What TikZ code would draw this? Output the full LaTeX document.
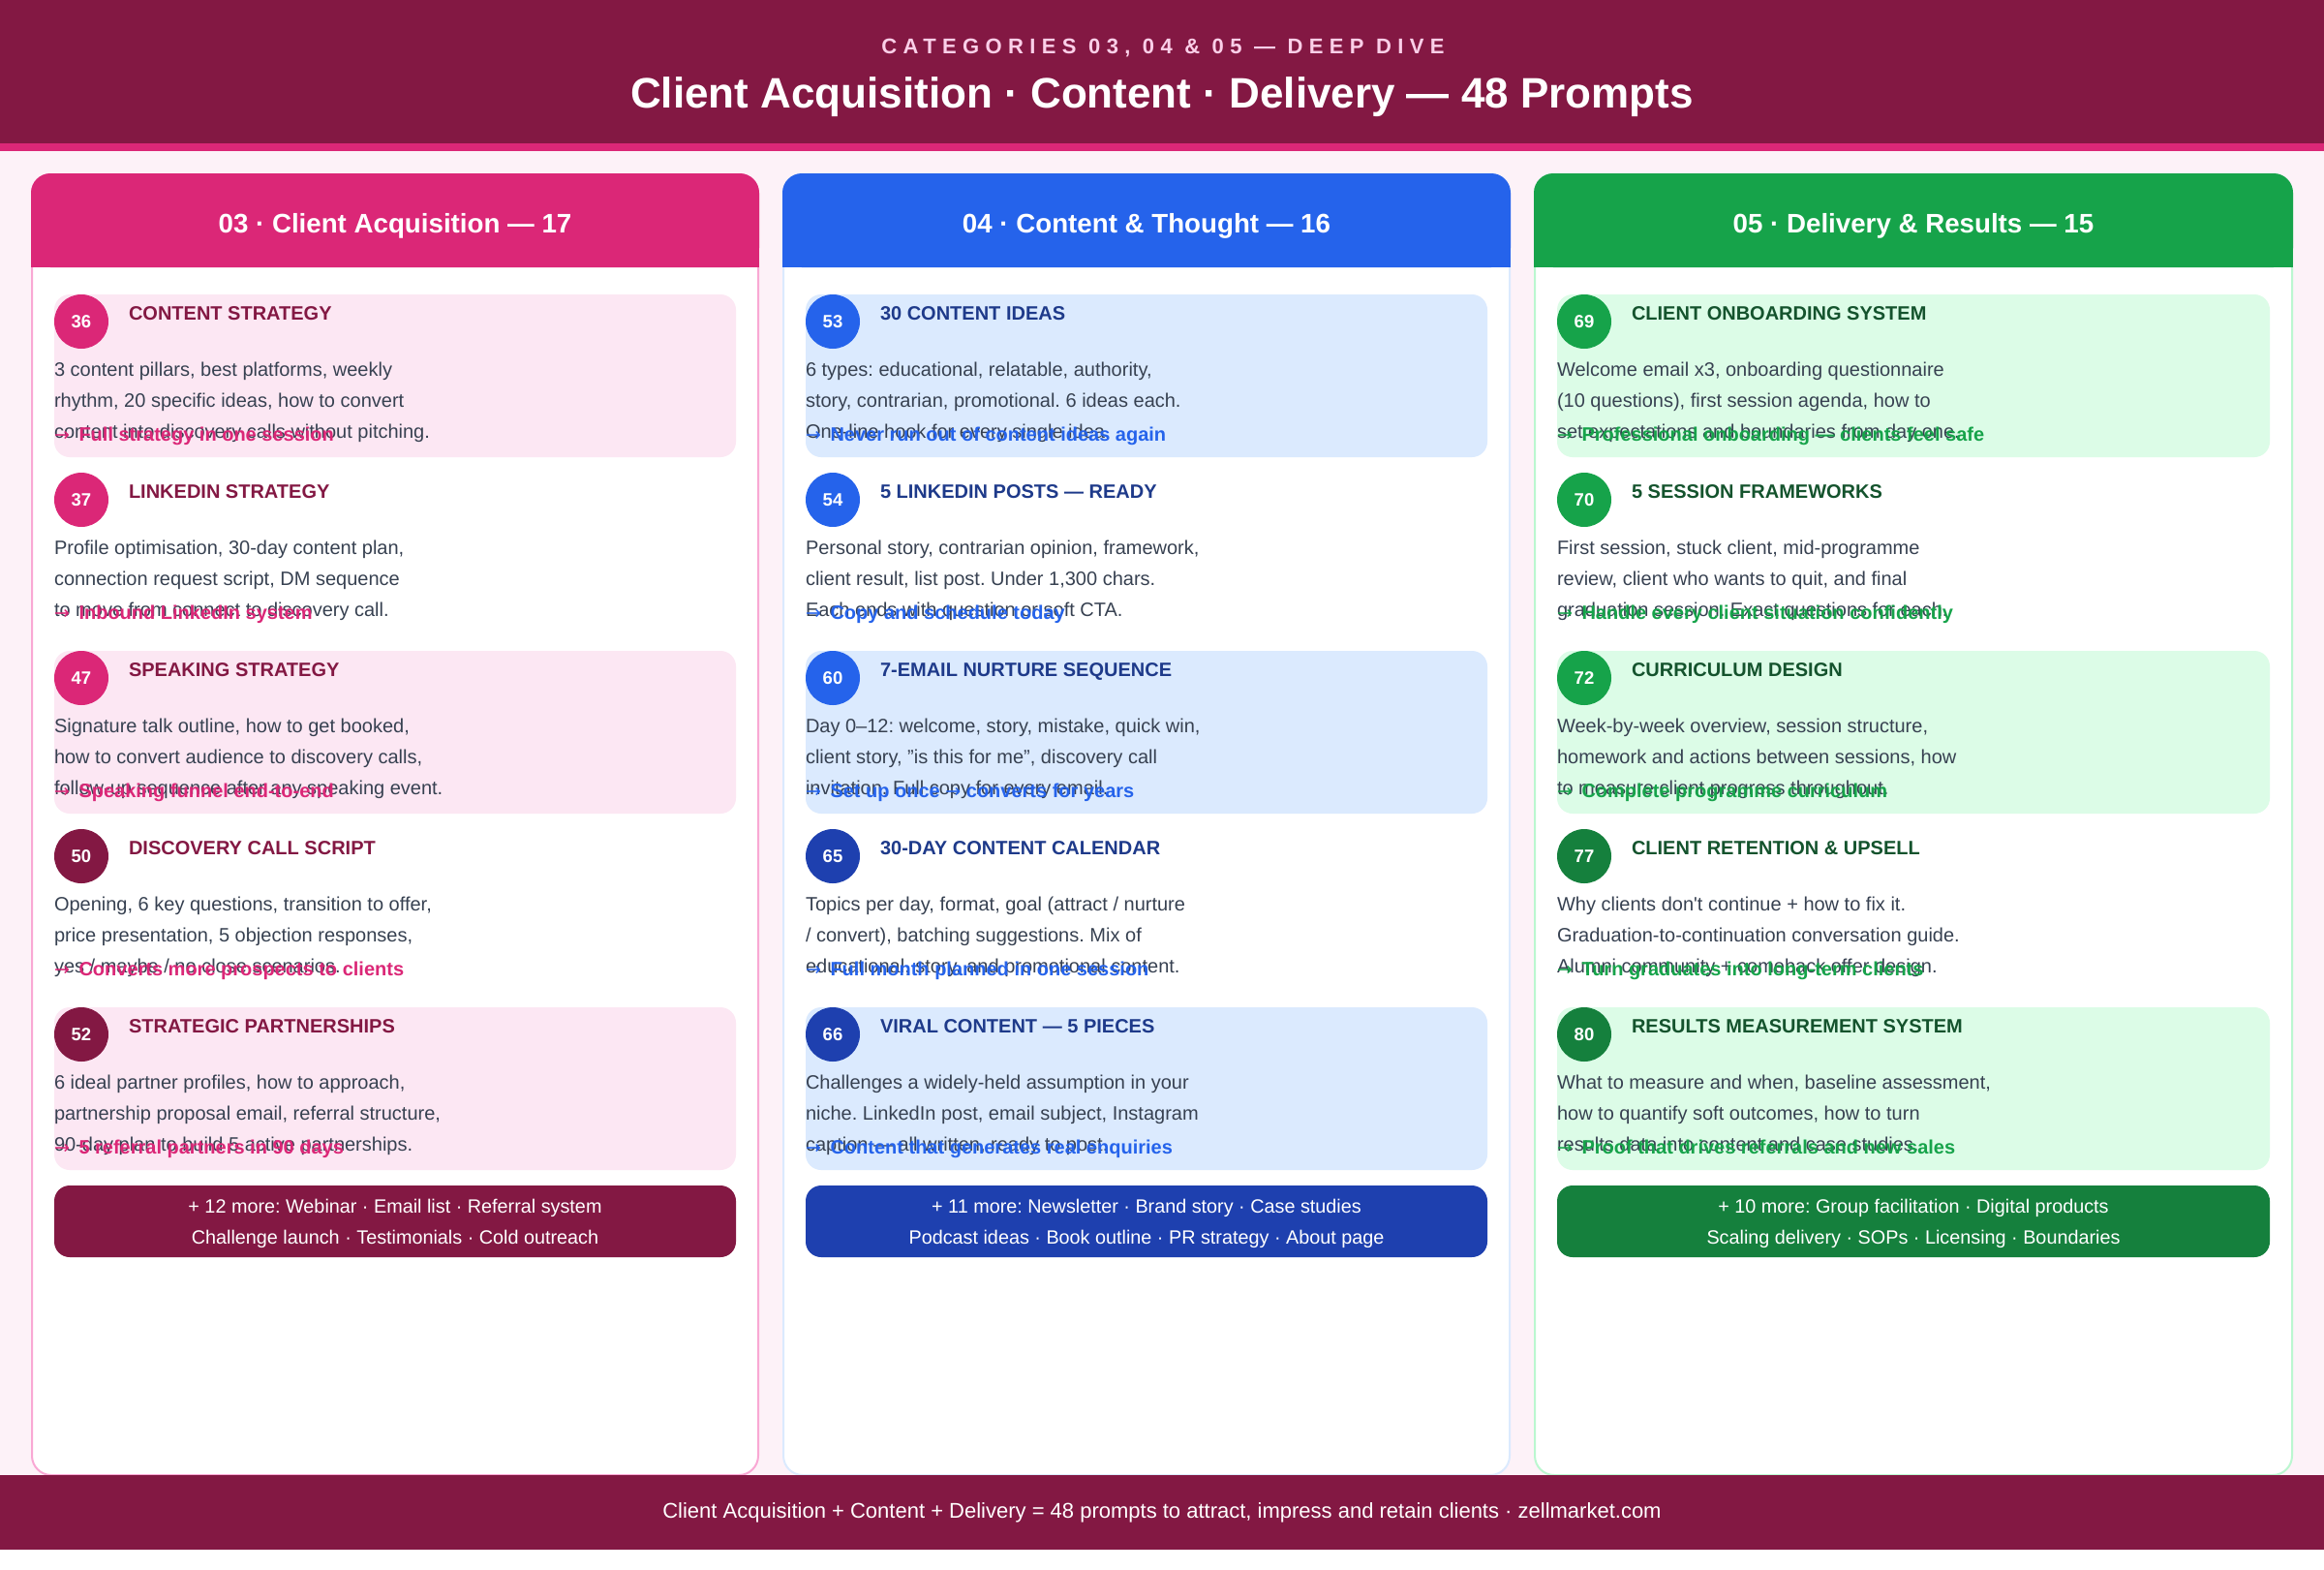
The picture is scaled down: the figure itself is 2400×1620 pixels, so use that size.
\documentclass[tikz,border=0pt]{standalone}
\usepackage{fontspec}
\setmainfont{Liberation Sans}
\newfontfamily\arrowfont{DejaVu Sans}
\definecolor{hdr}{HTML}{831843}
\definecolor{pinkA}{HTML}{DB2777}
\definecolor{pagebg}{HTML}{FDF2F8}
\definecolor{subt}{HTML}{FBCFE8}
\definecolor{desccol}{HTML}{374151}
\definecolor{pinkBorder}{HTML}{F9A8D4}
\definecolor{pinkFill}{HTML}{FCE7F3}
\definecolor{pinkDark}{HTML}{831843}
\definecolor{blueA}{HTML}{2563EB}
\definecolor{blueDark}{HTML}{1E40AF}
\definecolor{blueTitle}{HTML}{1E3A8A}
\definecolor{blueFill}{HTML}{DBEAFE}
\definecolor{blueBorder}{HTML}{DBEAFE}
\definecolor{greenA}{HTML}{16A34A}
\definecolor{greenDark}{HTML}{15803D}
\definecolor{greenTitle}{HTML}{14532D}
\definecolor{greenFill}{HTML}{DCFCE7}
\definecolor{greenBorder}{HTML}{BBF7D0}
\tikzset{
  every node/.style={inner sep=0pt, outer sep=0pt},
  desc/.style={anchor=base west, font=\fontsize{20}{24}\selectfont, text=desccol},
  ptitle/.style={anchor=base west, font=\bfseries\fontsize{20}{24}\selectfont},
  outc/.style={anchor=base west, font=\bfseries\fontsize{20}{24}\selectfont},
  numc/.style={circle, minimum size=56pt, font=\bfseries\fontsize{18.5}{22}\selectfont, text=white},
  itembox/.style={rectangle, rounded corners=16pt, minimum height=168pt, anchor=north west},
  morebox/.style={rectangle, rounded corners=16pt, minimum height=74pt, anchor=north west},
  moretext/.style={anchor=base, font=\fontsize{19.8}{24}\selectfont, text=white},
  colhead/.style={anchor=base, font=\bfseries\fontsize{27.7}{32}\selectfont, text=white},
}
\newcommand\myarrow{{\arrowfont\mdseries\fontsize{19}{24}\selectfont →}}
% #1 top, #2 box fill, #3 circle colour, #4 number, #5 title, #6-#8 lines, #9 outcome
\newcommand\pitem[9]{%
  \node[itembox, fill=#2, minimum width=\colW] (b#4) at (\colL,#1) {};
  \node[numc, fill=#3] (c#4) at (\colL+28,#1+28) {#4};
  \node[ptitle, text=\colTitle] (t#4) at (\colL+77,#1+26) {#5};
  \node[desc] (d#4a) at (\colL,#1+84) {#6};
  \node[desc] (d#4b) at (\colL,#1+116) {#7};
  \node[desc] (d#4c) at (\colL,#1+148) {#8};
  \node[outc, text=\colAcc] (o#4) at (\colL,#1+151) {\makebox[25.5pt][l]{\myarrow}#9};
}
\begin{document}
\frenchspacing
\begin{tikzpicture}[x={(1pt,0)}, y={(0,-1pt)}]
\useasboundingbox (0,0) rectangle (2400,1620);
\fill[white] (0,0) rectangle (2400,1620);
\fill[pagebg] (0,156) rectangle (2400,1600);
\fill[hdr] (0,0) rectangle (2400,148);
\fill[pinkA] (0,148) rectangle (2400,156);
\node[anchor=base, text=subt, font=\bfseries\fontsize{22}{26}\selectfont\addfontfeatures{LetterSpace=29}] (sub) at (1201,55) {CATEGORIES 03, 04 \& 05 — DEEP DIVE};
\node[anchor=base, text=white, font=\bfseries\fontsize{44}{50}\selectfont] (title) at (1200,111) {Client Acquisition · Content · Delivery — 48 Prompts};

% cards
\draw[pinkBorder, line width=2pt, fill=white, rounded corners=20pt] (33,180) rectangle (783,1523);
\draw[blueBorder, line width=2pt, fill=white, rounded corners=20pt] (809,180) rectangle (1559,1523);
\draw[greenBorder, line width=2pt, fill=white, rounded corners=20pt] (1585,180) rectangle (2367,1523);
\fill[pinkA, rounded corners=20pt] (32,179) rectangle (784,276);
\fill[pinkA] (32,230) rectangle (784,276);
\fill[blueA, rounded corners=20pt] (808,179) rectangle (1560,276);
\fill[blueA] (808,230) rectangle (1560,276);
\fill[greenA, rounded corners=20pt] (1584,179) rectangle (2368,276);
\fill[greenA] (1584,230) rectangle (2368,276);
\node[colhead] (h1) at (408,240) {03 · Client Acquisition — 17};
\node[colhead] (h2) at (1184,240) {04 · Content \& Thought — 16};
\node[colhead] (h3) at (1976,240) {05 · Delivery \& Results — 15};

% column 1
\def\colL{56}\def\colW{704pt}\def\colTitle{pinkDark}\def\colAcc{pinkA}
\pitem{304}{pinkFill}{pinkA}{36}{CONTENT STRATEGY}{3 content pillars, best platforms, weekly}{rhythm, 20 specific ideas, how to convert}{content into discovery calls without pitching.}{Full strategy in one session}
\pitem{488}{white}{pinkA}{37}{LINKEDIN STRATEGY}{Profile optimisation, 30-day content plan,}{connection request script, DM sequence}{to move from connect to discovery call.}{Inbound LinkedIn system}
\pitem{672}{pinkFill}{pinkA}{47}{SPEAKING STRATEGY}{Signature talk outline, how to get booked,}{how to convert audience to discovery calls,}{follow-up sequence after any speaking event.}{Speaking funnel end-to-end}
\pitem{856}{white}{pinkDark}{50}{DISCOVERY CALL SCRIPT}{Opening, 6 key questions, transition to offer,}{price presentation, 5 objection responses,}{yes / maybe / no close scenarios.}{Converts more prospects to clients}
\pitem{1040}{pinkFill}{pinkDark}{52}{STRATEGIC PARTNERSHIPS}{6 ideal partner profiles, how to approach,}{partnership proposal email, referral structure,}{90-day plan to build 5 active partnerships.}{5 referral partners in 90 days}
\node[morebox, fill=pinkDark, minimum width=704pt] (m1) at (56,1224) {};
\node[moretext] (m1a) at (408,1252) {+ 12 more: Webinar · Email list · Referral system};
\node[moretext] (m1b) at (408,1284) {Challenge launch · Testimonials · Cold outreach};

% column 2
\def\colL{832}\def\colW{704pt}\def\colTitle{blueTitle}\def\colAcc{blueA}
\pitem{304}{blueFill}{blueA}{53}{30 CONTENT IDEAS}{6 types: educational, relatable, authority,}{story, contrarian, promotional. 6 ideas each.}{One-line hook for every single idea.}{Never run out of content ideas again}
\pitem{488}{white}{blueA}{54}{5 LINKEDIN POSTS — READY}{Personal story, contrarian opinion, framework,}{client result, list post. Under 1,300 chars.}{Each ends with question or soft CTA.}{Copy and schedule today}
\pitem{672}{blueFill}{blueA}{60}{7-EMAIL NURTURE SEQUENCE}{Day 0–12: welcome, story, mistake, quick win,}{client story, "is this for me", discovery call}{invitation. Full copy for every email.}{Set up once \myarrow{} converts for years}
\pitem{856}{white}{blueDark}{65}{30-DAY CONTENT CALENDAR}{Topics per day, format, goal (attract / nurture}{/ convert), batching suggestions. Mix of}{educational, story, and promotional content.}{Full month planned in one session}
\pitem{1040}{blueFill}{blueDark}{66}{VIRAL CONTENT — 5 PIECES}{Challenges a widely-held assumption in your}{niche. LinkedIn post, email subject, Instagram}{caption — all written, ready to post.}{Content that generates real enquiries}
\node[morebox, fill=blueDark, minimum width=704pt] (m2) at (832,1224) {};
\node[moretext] (m2a) at (1184,1252) {+ 11 more: Newsletter · Brand story · Case studies};
\node[moretext] (m2b) at (1184,1284) {Podcast ideas · Book outline · PR strategy · About page};

% column 3
\def\colL{1608}\def\colW{736pt}\def\colTitle{greenTitle}\def\colAcc{greenA}
\pitem{304}{greenFill}{greenA}{69}{CLIENT ONBOARDING SYSTEM}{Welcome email x3, onboarding questionnaire}{(10 questions), first session agenda, how to}{set expectations and boundaries from day one.}{Professional onboarding — clients feel safe}
\pitem{488}{white}{greenA}{70}{5 SESSION FRAMEWORKS}{First session, stuck client, mid-programme}{review, client who wants to quit, and final}{graduation session. Exact questions for each.}{Handle every client situation confidently}
\pitem{672}{greenFill}{greenA}{72}{CURRICULUM DESIGN}{Week-by-week overview, session structure,}{homework and actions between sessions, how}{to measure client progress throughout.}{Complete programme curriculum}
\pitem{856}{white}{greenDark}{77}{CLIENT RETENTION \& UPSELL}{Why clients don\textquotesingle t continue + how to fix it.}{Graduation-to-continuation conversation guide.}{Alumni community + comeback offer design.}{Turn graduates into long-term clients}
\pitem{1040}{greenFill}{greenDark}{80}{RESULTS MEASUREMENT SYSTEM}{What to measure and when, baseline assessment,}{how to quantify soft outcomes, how to turn}{results data into content and case studies.}{Proof that drives referrals and new sales}
\node[morebox, fill=greenDark, minimum width=736pt] (m3) at (1608,1224) {};
\node[moretext] (m3a) at (1976,1252) {+ 10 more: Group facilitation · Digital products};
\node[moretext] (m3b) at (1976,1284) {Scaling delivery · SOPs · Licensing · Boundaries};

% footer
\fill[hdr] (0,1523) rectangle (2400,1600);
\node[anchor=base, text=white, font=\fontsize{22}{26}\selectfont] (foot) at (1200,1567) {Client Acquisition + Content + Delivery = 48 prompts to attract, impress and retain clients · zellmarket.com};
\end{tikzpicture}
\end{document}
